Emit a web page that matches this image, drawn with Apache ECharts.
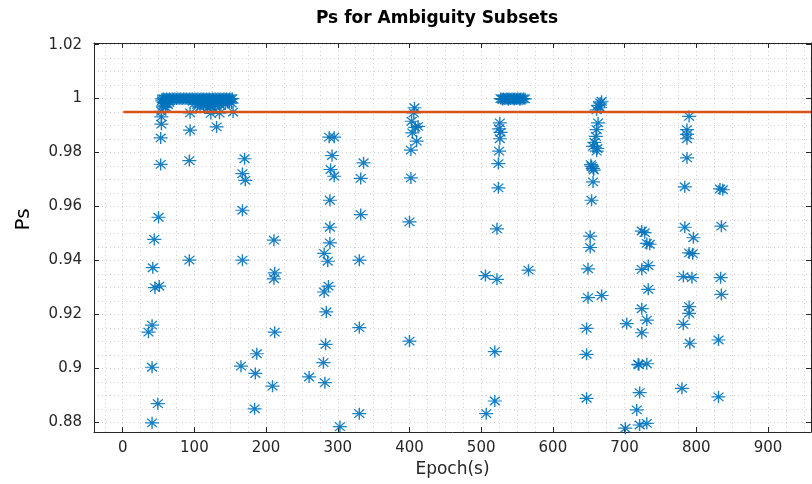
<!DOCTYPE html>
<html>
<head>
<meta charset="utf-8">
<script src="https://cdn.jsdelivr.net/npm/echarts@6/dist/echarts.min.js"></script>
<style>
html,body{margin:0;padding:0;background:#fff;}
#chart{width:812px;height:484px;}
</style>
</head>
<body>
<div id="chart"></div>
<script>
// ---- Data (Epoch in s, Ps) ----
const titleText = 'Ps for Ambiguity Subsets';
const xName = 'Epoch(s)';
const yName = 'Ps';
const thresholdEpochs = [1, 960];
const thresholdPs = [0.995, 0.995];

// dense band near Ps = 1, epochs ~55-155
const bandA = [[55,0.9999],[57,1.0],[59,0.9998],[61,1.0],[63,0.9999],[65,1.0],[67,0.9998],[69,1.0],[71,0.9999],[73,1.0],[75,0.9998],[77,1.0],[79,0.9999],[81,1.0],[83,0.9998],[85,1.0],[87,0.9999],[89,1.0],[91,0.9998],[93,1.0],[95,0.9999],[97,1.0],[99,0.9998],[101,1.0],[103,0.9999],[105,1.0],[107,0.9998],[109,1.0],[111,0.9999],[113,1.0],[115,0.9998],[117,1.0],[119,0.9999],[121,1.0],[123,0.9998],[125,1.0],[127,0.9999],[129,1.0],[131,0.9998],[133,1.0],[135,0.9999],[137,1.0],[139,0.9998],[141,1.0],[143,0.9999],[145,1.0],[147,0.9998],[149,1.0],[151,0.9999],[153,1.0],
  [55,0.9992],[57,0.9987],[59,0.9983],[61,0.9990],[63,0.9978],[65,0.9986],[56,0.9972],[60,0.9968],
  [98,0.9990],[101,0.9984],[104,0.9978],[107,0.9989],[110,0.9981],[113,0.9975],[116,0.9987],[119,0.9980],[122,0.9972],[125,0.9985],[128,0.9977],[131,0.9990],[134,0.9982],[137,0.9974],[140,0.9988],[143,0.9980],[146,0.9985],[149,0.9990],[152,0.9983],[118,0.9965],[127,0.9962],[108,0.9968]];
// dense band near Ps = 1, epochs ~527-561
const bandB = [[527,1.0],[529,0.9999],[531,1.0],[533,0.9998],[535,1.0],[537,0.9999],[539,1.0],[541,0.9998],[543,1.0],[545,0.9999],[547,1.0],[549,0.9998],[551,1.0],[553,0.9999],[555,1.0],[557,0.9998],[559,1.0],[561,0.9999],[530,0.9997],[538,0.9996],[546,0.9997],[554,0.9996]];

const group50 = [[54,0.9953],[54,0.9932],[54,0.9905],[53,0.9854],[53,0.9756],[50,0.956],[44,0.9478],[42,0.9373],[45,0.9299],[51,0.9305],[41,0.916],[36,0.9134],[41,0.9004],[49,0.8869],[41,0.8798]];
const group100 = [[94,0.9947],[94,0.9883],[93,0.977],[93,0.9401],[123,0.9945],[135,0.9946],[154,0.995],[131,0.9895]];
const group170 = [[170,0.9777],[167,0.9722],[171,0.9697],[167,0.9586],[167,0.9401],[165,0.9008],[187,0.9054],[185,0.8981],[184,0.885]];
const group210 = [[211,0.9475],[212,0.9354],[211,0.9332],[212,0.9134],[209,0.8934],[260,0.8968]];
const group290 = [[288,0.9857],[295,0.9857],[292,0.9789],[290,0.9737],[295,0.9712],[289,0.9623],[289,0.9523],[289,0.9465],[281,0.9426],[286,0.9397],[287,0.9305],[281,0.9283],[284,0.9209],[283,0.9089],[280,0.9021],[282,0.8947],[303,0.8784]];
const group335 = [[336,0.9762],[332,0.9704],[332,0.957],[330,0.9401],[330,0.9151],[330,0.8832]];
const group405 = [[407,0.9966],[406,0.9947],[403,0.9916],[408,0.9893],[412,0.9897],[404,0.9873],[410,0.9842],[402,0.9809],[402,0.9706],[400,0.9543],[400,0.9101]];
const group520 = [[526,0.991],[527,0.9875],[525,0.9888],[526,0.9851],[525,0.9805],[524,0.9759],[524,0.9669],[522,0.9517],[506,0.9344],[522,0.933],[519,0.9062],[519,0.8879],[507,0.8832],[566,0.9364]];
const group655 = [[666,0.9984],[666,0.9966],[663,0.9975],[668,0.999],[661,0.9958],[663,0.991],[661,0.9885],[660,0.986],[658,0.9838],[656,0.9823],[662,0.9815],[661,0.9805],[654,0.9749],[653,0.9755],[657,0.9735],[656,0.9741],[656,0.9691],[654,0.9623],[652,0.949],[652,0.9448],[649,0.9369],[649,0.9262],[668,0.927],[647,0.9148],[647,0.9052],[647,0.8889]];
const group720 = [[724,0.9509],[728,0.9503],[731,0.9463],[735,0.946],[733,0.9381],[724,0.9367],[733,0.9293],[724,0.9221],[731,0.9179],[703,0.9166],[724,0.9132],[719,0.9015],[720,0.9013],[731,0.9017],[721,0.891],[717,0.8846],[701,0.8778],[721,0.879],[731,0.8796]];
const group790 = [[790,0.9934],[787,0.9885],[787,0.9867],[787,0.9851],[787,0.978],[784,0.9673],[784,0.9523],[796,0.9484],[790,0.9428],[795,0.9425],[782,0.934],[794,0.9336],[790,0.9229],[790,0.9204],[782,0.9163],[791,0.9093],[780,0.8926]];
const group835 = [[833,0.9665],[837,0.9662],[835,0.9527],[834,0.9336],[835,0.9274],[831,0.9105],[831,0.8894]];

const xTickMin = -40, xTickMax = 960;
const yTickMin = 0.8764, yTickMax = 1.0206;

const allPoints = [].concat(bandA, bandB, group50, group100, group170, group210, group290, group335, group405, group520, group655, group720, group790, group835);
const thresholdLine = thresholdEpochs.map((e, i) => [e, thresholdPs[i]]);

const FONT = 'DejaVu Sans';
const AX = '#262626';
const gridDot = { color: '#d2d2d2', width: 1, type: [1, 3] };

const chart = echarts.init(document.getElementById('chart'), null, { renderer: 'canvas' });
chart.setOption({
  animation: false,
  backgroundColor: '#fff',
  title: {
    text: titleText,
    left: 432,
    textAlign: 'center',
    top: 5,
    textStyle: { fontFamily: FONT, fontSize: 17, fontWeight: 'bold', color: '#000' }
  },
  grid: { left: 94, right: 1, top: 43, bottom: 52 },
  xAxis: [{
    type: 'value', min: xTickMin, max: xTickMax, splitNumber: 10,
    name: xName, nameLocation: 'middle', nameGap: 27,
    nameTextStyle: { fontFamily: FONT, fontSize: 17, color: AX },
    axisLine: { show: true, onZero: false, lineStyle: { color: AX, width: 1 } },
    axisTick: { show: true, inside: true, length: 5, lineStyle: { color: AX } },
    axisLabel: { fontFamily: FONT, fontSize: 15, color: AX, margin: 9, showMinLabel: false, showMaxLabel: false },
    splitLine: { show: true, lineStyle: gridDot },
    minorTick: { show: false, splitNumber: 4 },
    minorSplitLine: { show: true, lineStyle: gridDot }
  }, {
    type: 'value', position: 'top', min: xTickMin, max: xTickMax, splitNumber: 10,
    axisLine: { show: true, onZero: false, lineStyle: { color: AX, width: 1 } },
    axisTick: { show: true, inside: true, length: 5, lineStyle: { color: AX } },
    axisLabel: { show: false }, splitLine: { show: false }
  }],
  yAxis: [{
    type: 'value', min: yTickMin, max: yTickMax, splitNumber: 7,
    name: yName, nameLocation: 'middle', nameGap: 60,
    nameTextStyle: { fontFamily: FONT, fontSize: 20, color: '#000', padding: [0, 0, 0, 36] },
    axisLine: { show: true, onZero: false, lineStyle: { color: AX, width: 1 } },
    axisTick: { show: true, inside: true, length: 5, lineStyle: { color: AX } },
    axisLabel: { fontFamily: FONT, fontSize: 15, color: AX, margin: 12, showMinLabel: false, showMaxLabel: false },
    splitLine: { show: true, lineStyle: gridDot },
    minorTick: { show: false, splitNumber: 4 },
    minorSplitLine: { show: true, lineStyle: gridDot }
  }, {
    type: 'value', position: 'right', min: yTickMin, max: yTickMax, splitNumber: 7,
    axisLine: { show: true, onZero: false, lineStyle: { color: AX, width: 1 } },
    axisTick: { show: true, inside: true, length: 5, lineStyle: { color: AX } },
    axisLabel: { show: false }, splitLine: { show: false }
  }],
  series: [{
    type: 'scatter',
    name: 'Ps',
    data: allPoints,
    symbol: 'path://M0,-6L0,6M-6,0L6,0M-4.24,-4.24L4.24,4.24M-4.24,4.24L4.24,-4.24',
    symbolSize: [14, 12],
    itemStyle: { color: 'rgba(0,0,0,0)', borderColor: '#0072BD', borderWidth: 1.3, opacity: 0.9 },
    z: 3
  }, {
    type: 'line',
    name: 'Threshold',
    data: thresholdLine,
    symbol: 'none',
    lineStyle: { color: '#D95319', width: 2.5 },
    z: 4
  }]
});
</script>
</body>
</html>
